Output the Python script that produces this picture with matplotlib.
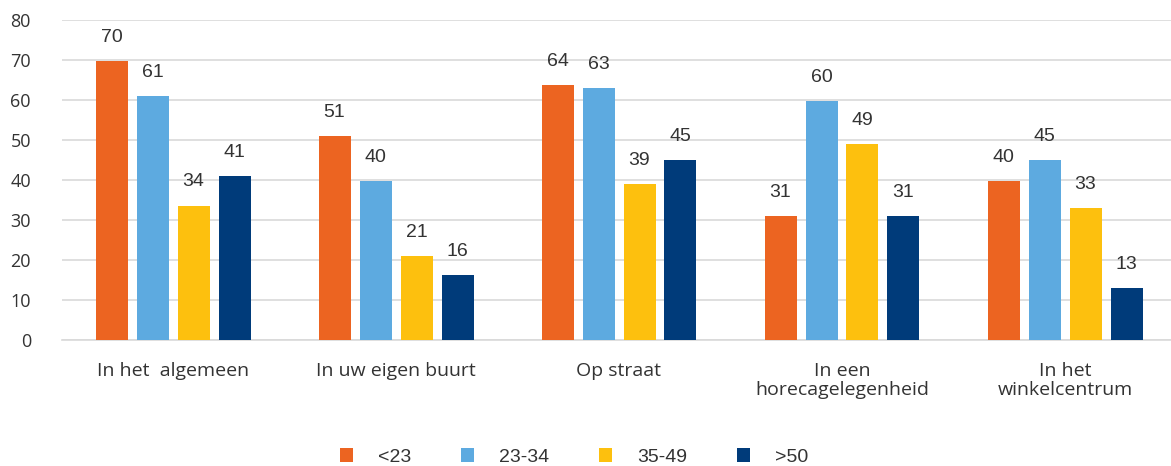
import numpy as np
import matplotlib
matplotlib.use("Agg")
import matplotlib.pyplot as plt

# data
categories = ["In het  algemeen", "In uw eigen buurt", "Op straat",
              "In een\nhorecagelegenheid", "In het\nwinkelcentrum"]
series = ["<23", "23-34", "35-49", ">50"]
under23 = [69.7, 51.0, 63.7, 31.0, 39.7]
age23_34 = [61.0, 39.7, 63.0, 59.7, 45.0]
age35_49 = [33.6, 21.0, 39.0, 49.0, 33.0]
over50 = [41.0, 16.3, 45.0, 31.0, 13.0]
colors = ["#EC6421", "#5DAAE0", "#FDC00E", "#003B7A"]

values = [under23, age23_34, age35_49, over50]

txt = "#333333"
fig = plt.figure(figsize=(11.71, 4.66), dpi=100)
# plot area runs a bit past the right edge, as in the source image
ax = fig.add_axes([61.5 / 1171, 126 / 466, 1115 / 1171, 320 / 466])

x = np.arange(len(categories))
pitch = 41 / 223
width = 32 / 223
for i, (name, vals, c) in enumerate(zip(series, values, colors)):
    pos = x + (i - 1.5) * pitch
    bars = ax.bar(pos, vals, width, color=c, label=name, zorder=3)
    for b, v in zip(bars, vals):
        ax.annotate(f"{v:.0f}", (b.get_x() + b.get_width() / 2, v),
                    xytext=(0, 11), textcoords="offset points",
                    ha="center", va="bottom", fontsize=14, color=txt,
                    family="Liberation Sans")

ax.set_xlim(-0.5, 4.5)
ax.set_ylim(0, 80)
ax.set_yticks(range(0, 81, 10))
ax.yaxis.grid(True, color="#d9d9d9", linewidth=1.2, zorder=0)
ax.set_xticks(x)
ax.set_xticklabels(categories, family="Open Sans", fontsize=14, color=txt,
                   linespacing=1.05)
ax.tick_params(axis="x", length=0, pad=16)
ax.tick_params(axis="y", length=0, pad=22, labelsize=13, labelcolor=txt)
for lab in ax.get_yticklabels():
    lab.set_family("Open Sans")
for s in ["top", "right", "left"]:
    ax.spines[s].set_visible(False)
ax.spines["bottom"].set_color("#d9d9d9")
ax.spines["bottom"].set_linewidth(1.2)

fig.legend(loc="center", bbox_to_anchor=(574 / 1171, 9 / 466), ncol=4,
           frameon=False, handlelength=0.67, handleheight=0.67,
           handletextpad=1.3, columnspacing=2.55,
           prop={"family": "Liberation Sans", "size": 14},
           labelcolor=txt)

fig.savefig("out.png", dpi=100)
